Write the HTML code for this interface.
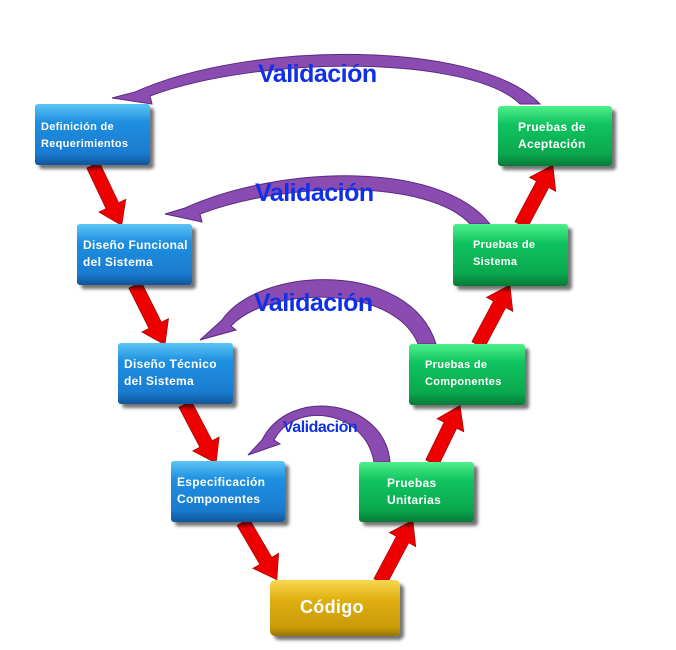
<!DOCTYPE html>
<html><head><meta charset="utf-8"><style>
body{margin:0;background:#fff;width:676px;height:650px;overflow:hidden;position:relative;font-family:"Liberation Sans",sans-serif}
.b{position:absolute;border-radius:3px;box-shadow:4px 4px 3px rgba(0,0,0,.55);color:#fff;font-weight:bold;font-size:12px;line-height:17px;letter-spacing:.3px}
.bl{background:linear-gradient(#5cc4f4,#1e8fe0 30%,#1a7cd0 80%,#10559a)}
.gr{background:linear-gradient(#4ef08a,#10c460 30%,#0aa84e 80%,#077a38)}
.b span{position:absolute;left:6px;top:13px}
svg{position:absolute;left:0;top:0}
.v{position:absolute;color:#1030e8;font-weight:bold;font-size:25px;letter-spacing:-0.5px}
</style></head><body>
<svg width="676" height="650">
<defs><linearGradient id="r" x1="0" y1="-1" x2="0" y2="1" gradientUnits="objectBoundingBox"><stop offset="0" stop-color="#ff5050"/><stop offset=".5" stop-color="#f00"/><stop offset="1" stop-color="#a00"/></linearGradient>
<polygon id="a" points="0,-7 -22,-7 -22,-15 0,0 -22,15 -22,7 0,7"/></defs>
<g fill="#e00" stroke="#900" stroke-width=".6">
<polygon transform="translate(93,165) rotate(64.6)" points="0,-7 45,-7 45,-15 67,0 45,15 45,7 0,7"/>
<polygon transform="translate(135,285) rotate(63.4)" points="0,-7 45,-7 45,-15 67,0 45,15 45,7 0,7"/>
<polygon transform="translate(185,404) rotate(62.3)" points="0,-7 45,-7 45,-15 67,0 45,15 45,7 0,7"/>
<polygon transform="translate(243,522) rotate(59.6)" points="0,-7 45,-7 45,-15 67,0 45,15 45,7 0,7"/>
<polygon transform="translate(380,582) rotate(-62)" points="0,-7 48,-7 48,-15 70,0 48,15 48,7 0,7"/>
<polygon transform="translate(432,463) rotate(-64)" points="0,-7 42,-7 42,-15 64,0 42,15 42,7 0,7"/>
<polygon transform="translate(478,345) rotate(-62)" points="0,-7 46,-7 46,-15 68,0 46,15 46,7 0,7"/>
<polygon transform="translate(521,225) rotate(-62)" points="0,-7 46,-7 46,-15 68,0 46,15 46,7 0,7"/>
</g>
<g fill="#8a4cb0" stroke="#5a2a80" stroke-width="1">
<path d="M540,104 C480,40 250,40 135,92 L112,98 L152,104 L150,96 C260,55 470,55 520,104 Z"/>
<path d="M490,224 C440,160 280,165 185,208 L165,214 L202,222 L200,214 C290,180 430,180 470,224 Z"/>
<path d="M436,344 C410,260 260,265 222,320 L200,340 L236,330 L231,326 C270,285 395,285 418,344 Z"/>
<path d="M390,462 C385,400 290,385 262,440 L248,455 L280,444 L274,440 C295,400 365,410 374,462 Z"/>
</g>
</svg>
<div class="v" style="left:258px;top:60px">Validación</div>
<div class="v" style="left:255px;top:179px">Validación</div>
<div class="v" style="left:254px;top:289px">Validación</div>
<div class="v" style="left:283px;top:419px;font-size:16px">Validación</div>
<div class="b bl" style="left:35px;top:104px;width:115px;height:61px;font-size:11px"><span style="top:15px">Definición de<br>Requerimientos</span></div>
<div class="b bl" style="left:77px;top:224px;width:115px;height:61px"><span>Diseño Funcional<br>del Sistema</span></div>
<div class="b bl" style="left:118px;top:343px;width:115px;height:61px"><span>Diseño Técnico<br>del Sistema</span></div>
<div class="b bl" style="left:171px;top:461px;width:114px;height:61px"><span>Especificación<br>Componentes</span></div>
<div class="b gr" style="left:359px;top:462px;width:115px;height:60px"><span style="left:28px">Pruebas<br>Unitarias</span></div>
<div class="b gr" style="left:409px;top:344px;width:116px;height:61px;font-size:11px"><span style="left:16px">Pruebas de<br>Componentes</span></div>
<div class="b gr" style="left:453px;top:224px;width:115px;height:62px;font-size:11px"><span style="left:20px">Pruebas de<br>Sistema</span></div>
<div class="b gr" style="left:498px;top:106px;width:114px;height:60px"><span style="left:20px">Pruebas de<br>Aceptación</span></div>
<div class="b" style="left:270px;top:580px;width:130px;height:56px;background:linear-gradient(#f8d850,#e0b010 35%,#c89a08 85%,#9a7404);border-radius:5px;font-size:18px"><span style="left:30px;top:19px">Código</span></div>
</body></html>
